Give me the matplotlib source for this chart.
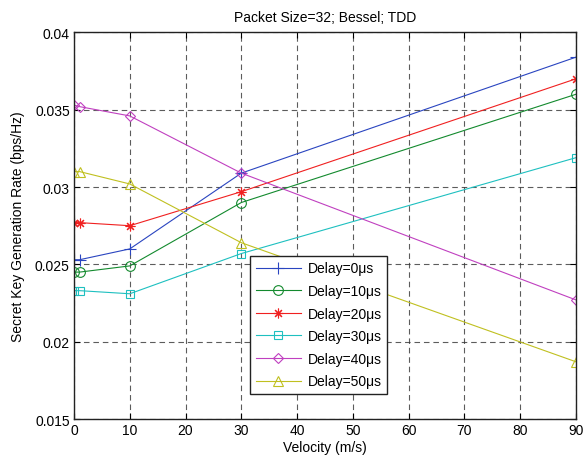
import matplotlib.pyplot as plt
import numpy as np

plt.rcParams["font.family"] = ["Liberation Sans", "DejaVu Sans"]
plt.rcParams["font.size"] = 10

# velocities (m/s) at which each delay setting was evaluated
velocity = [0, 1, 10, 30, 90]

# secret key generation rate (bps/Hz) per delay
rate_0us  = [0.0253, 0.0253, 0.0260, 0.0309, 0.0384]
rate_10us = [0.0245, 0.0245, 0.0249, 0.0290, 0.0360]
rate_20us = [0.0277, 0.0277, 0.0275, 0.0297, 0.0370]
rate_30us = [0.0233, 0.0233, 0.0231, 0.0257, 0.0319]
rate_40us = [0.0353, 0.0352, 0.0346, 0.0309, 0.0227]
rate_50us = [0.0310, 0.0310, 0.0302, 0.0264, 0.0187]

labels = ["Delay=0μs", "Delay=10μs", "Delay=20μs",
          "Delay=30μs", "Delay=40μs", "Delay=50μs"]

series = [rate_0us, rate_10us, rate_20us, rate_30us, rate_40us, rate_50us]
colors = ["#2a45c0", "#138a2e", "#f02020", "#1ec0c0", "#c040c0", "#c0c020"]
markers = ["+", "o", (8, 2, 0), "s", "D", "^"]
msizes = [8, 7, 7, 6, 5, 7]

fig = plt.figure(figsize=(5.84, 4.64), dpi=100)
ax = fig.add_axes([0.1267, 0.0948, 0.8596, 0.8332])

for y, c, m, ms, lab in zip(series, colors, markers, msizes, labels):
    ax.plot(velocity, y, color=c, marker=m, markersize=ms,
            markerfacecolor="none", markeredgecolor=c,
            markeredgewidth=0.8, linewidth=0.8, label=lab)

ax.set_xlim(0, 90)
ax.set_ylim(0.015, 0.04)
ax.set_xticks(np.arange(0, 91, 10))
ax.set_yticks([0.015, 0.02, 0.025, 0.03, 0.035, 0.04])
ax.set_yticklabels(["0.015", "0.02", "0.025", "0.03", "0.035", "0.04"])

ax.grid(True, color="#333333", linestyle=(0, (5, 3.5)), linewidth=0.8, alpha=0.8)
ax.tick_params(direction="in", top=True, right=True, length=4, width=0.8,
               labelsize=10, pad=3)
for sp in ax.spines.values():
    sp.set_linewidth(1.0)
    sp.set_color("#222222")

ax.set_title("Packet Size=32; Bessel; TDD", fontsize=10, pad=8)
ax.set_xlabel("Velocity (m/s)", fontsize=10, labelpad=2)
ax.set_ylabel("Secret Key Generation Rate (bps/Hz)", fontsize=10, labelpad=7)

leg = ax.legend(loc="upper left", bbox_to_anchor=(0.3506, 0.422),
                borderaxespad=0, fancybox=False, framealpha=1,
                edgecolor="#222222", fontsize=10, handlelength=3.3,
                borderpad=0.4, labelspacing=0.62, handletextpad=0.45)
leg.get_frame().set_linewidth(1.0)

fig.savefig("out.png", dpi=100)
